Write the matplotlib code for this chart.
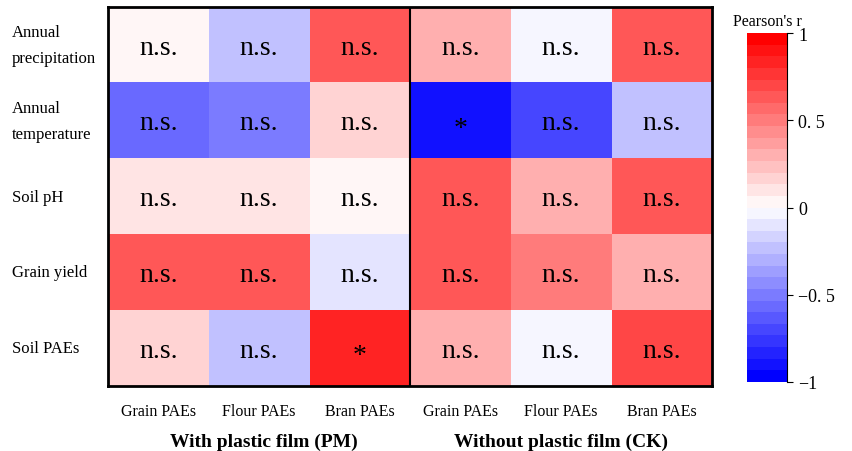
import numpy as np
import matplotlib
matplotlib.use("Agg")
import matplotlib.pyplot as plt

plt.rcParams['font.family'] = ['Liberation Serif', 'DejaVu Serif']

# data
row_names = ["Annual\nprecipitation", "Annual\ntemperature", "Soil pH", "Grain yield", "Soil PAEs"]
col_names = ["Grain PAEs", "Flour PAEs", "Bran PAEs", "Grain PAEs", "Flour PAEs", "Bran PAEs"]
groups = ["With plastic film (PM)", "Without plastic film (CK)"]

pm_r = [[0.03, -0.23, 0.60],
        [-0.60, -0.53, 0.18],
        [0.12, 0.12, 0.03],
        [0.65, 0.60, -0.12],
        [0.17, -0.23, 0.84]]
ck_r = [[0.28, -0.04, 0.65],
        [-0.93, -0.73, -0.23],
        [0.60, 0.33, 0.60],
        [0.65, 0.47, 0.33],
        [0.33, -0.04, 0.73]]
pm_sig = [["n.s.", "n.s.", "n.s."],
          ["n.s.", "n.s.", "n.s."],
          ["n.s.", "n.s.", "n.s."],
          ["n.s.", "n.s.", "n.s."],
          ["n.s.", "n.s.", "*"]]
ck_sig = [["n.s.", "n.s.", "n.s."],
          ["*", "n.s.", "n.s."],
          ["n.s.", "n.s.", "n.s."],
          ["n.s.", "n.s.", "n.s."],
          ["n.s.", "n.s.", "n.s."]]

r = np.hstack([np.array(pm_r), np.array(ck_r)])
sig = [a + b for a, b in zip(pm_sig, ck_sig)]

fig = plt.figure(figsize=(8.52, 4.52), dpi=100)
ax = fig.add_axes([0.1268, 0.1438, 0.709, 0.8385])
cax = fig.add_axes([0.8768, 0.1527, 0.047, 0.772])

cmap = plt.get_cmap('bwr', 30)
im = ax.imshow(r, cmap=cmap, vmin=-1, vmax=1, aspect='auto')

for i in range(r.shape[0]):
    for j in range(r.shape[1]):
        s = sig[i][j]
        if s == "*":
            ax.text(j, i + 0.1, s, ha='center', va='center', fontsize=20, color='black')
        else:
            ax.text(j, i + 0.03, s, ha='center', va='center', fontsize=20, color='black')

ax.set_xticks(range(len(col_names)))
ax.set_xticklabels(col_names, fontsize=11.5)
ax.set_yticks([])
ax.tick_params(axis='x', length=0, pad=12)

# row labels, left aligned at the figure edge
for i, name in enumerate(row_names):
    y = ax.transData.transform((0, i))[1]
    y = fig.transFigure.inverted().transform((0, y))[1]
    fig.text(0.014, y, name, ha='left', va='center', fontsize=12, linespacing=1.85)

ax.axvline(2.5, color='black', lw=1.5)
for sp in ax.spines.values():
    sp.set_linewidth(2)

# group labels
ax.text(1.05, 5.23, groups[0], ha='center', va='center', fontsize=14, fontweight='bold')
ax.text(4, 5.23, groups[1], ha='center', va='center', fontsize=14, fontweight='bold')

cb = fig.colorbar(im, cax=cax)
cb.set_ticks([1, 0.5, 0, -0.5, -1])
cb.set_ticklabels(['1', '0. 5', '0', '\u22120. 5', '\u22121'])
cb.ax.tick_params(labelsize=13, length=4, width=0.8, pad=4)
cb.outline.set_visible(False)
cb.ax.spines['right'].set_visible(True)
cax.set_title("Pearson's r", fontsize=11.5, pad=6)

fig.savefig("out.png", dpi=100)
